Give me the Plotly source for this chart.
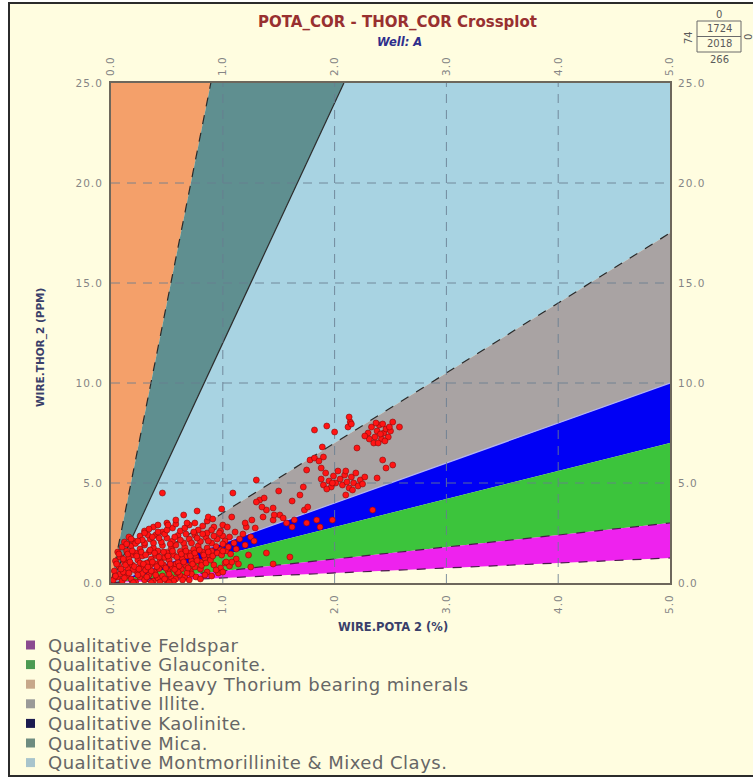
import plotly.graph_objects as go

# ---------------- data ----------------
# Mineral zones on the Th/K crossplot, bounded by Th/K ratio lines through the origin
zone_names = [
    "Qualitative Feldspar",
    "Qualitative Glauconite.",
    "Qualitative Heavy Thorium bearing minerals",
    "Qualitative Illite.",
    "Qualitative Kaolinite.",
    "Qualitative Mica.",
    "Qualitative Montmorillinite & Mixed Clays.",
]
zone_ratio_lo = [0.25, 0.6, 28.0, 2.0, 1.4, 12.0, 3.5]
zone_ratio_hi = [0.6, 1.4, None, 3.5, 2.0, 28.0, 12.0]
zone_fill = ["#EE22EE", "#3CC43C", "#F4A06A", "#A9A3A3", "#0000F5", "#5F8F90", "#A8D3E2"]
zone_swatch = ["#8B4A8F", "#4C9A52", "#C7A88A", "#9A9A98", "#1B1B4F", "#6E8C80", "#A8C4CC"]

# Ratio lines drawn on zone edges
edge_ratio = [28.0, 12.0, 3.5, 2.0, 0.6, 0.25]
edge_color = ["#2a2a2a", "#2a2a2a", "#2a2a2a", "#b4b4f2", "#4a1a4a", "#4a1a4a"]
edge_dash = ["dash", "solid", "dash", "solid", "dash", "dash"]

# Axis ticks
k_ticks = [0, 1, 2, 3, 4, 5]
k_labels = ["0.0", "1.0", "2.0", "3.0", "4.0", "5.0"]
th_ticks = [0, 5, 10, 15, 20, 25]
th_labels = ["0.0", "5.0", "10.0", "15.0", "20.0", "25.0"]

# Log samples: potassium (%) and thorium (ppm)
pota_pct = [
    0.02, 0.06, 0.10, 0.14, 0.18, 0.22, 0.26, 0.30, 0.34, 0.38, 0.42, 0.46, 0.50, 0.54, 0.58, 0.62, 0.08, 0.28, 0.44, 0.66,
    0.03, 0.07, 0.11, 0.15, 0.19, 0.23, 0.27, 0.31, 0.35, 0.39, 0.43, 0.47, 0.51, 0.55, 0.59, 0.63, 0.67, 0.71, 0.75, 0.20, 0.40, 0.58,
    0.04, 0.08, 0.12, 0.16, 0.20, 0.24, 0.28, 0.32, 0.36, 0.40, 0.44, 0.48, 0.52, 0.56, 0.60, 0.64, 0.68, 0.72, 0.76, 0.80, 0.84, 0.88, 0.26, 0.50,
    0.06, 0.10, 0.14, 0.18, 0.22, 0.26, 0.30, 0.34, 0.38, 0.42, 0.46, 0.50, 0.54, 0.58, 0.62, 0.66, 0.70, 0.74, 0.78, 0.82, 0.86, 0.90, 0.94, 0.98,
    0.12, 0.16, 0.20, 0.26, 0.30, 0.35, 0.40, 0.45, 0.50, 0.55, 0.60, 0.65, 0.70, 0.75, 0.80, 0.85, 0.90, 0.95, 1.00,
    0.30, 0.38, 0.46, 0.55, 0.62, 0.70, 0.78, 0.86, 0.92, 0.98, 0.75, 0.50,
    0.72, 0.80, 0.86, 0.92, 0.98, 1.02, 0.90, 1.06, 1.12, 0.96,
    0.04, 0.12, 0.16, 0.24, 0.32, 0.36, 0.40, 0.48, 0.52, 0.56, 0.60, 0.64, 0.68, 0.20, 0.36, 0.52,
    0.05, 0.09, 0.13, 0.17, 0.21, 0.25, 0.29, 0.33, 0.37, 0.41, 0.45, 0.49, 0.53, 0.57, 0.61, 0.65, 0.69, 0.73, 0.77, 0.81, 0.85, 0.89,
    0.07, 0.11, 0.15, 0.19, 0.23, 0.27, 0.31, 0.35, 0.39, 0.43, 0.47, 0.51, 0.55, 0.59, 0.63, 0.67, 0.71, 0.75, 0.79, 0.83, 0.87, 0.91, 0.95, 0.99, 1.03, 1.07,
    0.14, 0.18, 0.22, 0.28, 0.33, 0.38, 0.43, 0.48, 0.53, 0.57, 0.62, 0.67, 0.72, 0.77, 0.82, 0.87, 0.92, 0.97, 1.02, 1.06, 1.00,
    0.34, 0.42, 0.50, 0.58, 0.66, 0.74, 0.82, 0.90, 1.00, 0.86,
    0.76, 0.84, 0.94, 1.00, 1.08, 1.14, 0.70, 0.80, 1.25, 1.45, 1.60,
    0.46, 0.77, 0.65, 0.58, 0.68, 0.51, 0.30, 0.24, 0.37, 0.42, 0.99, 0.87, 0.91,
    1.09, 1.30, 1.82, 1.93, 2.12, 2.14, 2.13, 2.15, 1.78, 1.82, 1.86, 1.90, 1.75, 1.88, 2.00,
    2.30, 2.33, 2.36, 2.38, 2.40, 2.42, 2.44, 2.46, 2.35, 2.31, 2.39, 2.43, 2.48, 2.50, 2.27, 2.37, 2.45, 2.41,
    2.49, 2.58, 2.52, 2.20, 2.43, 2.52, 2.46, 2.38,
    1.88, 1.90, 1.92, 1.95, 1.97, 1.99, 2.01, 2.03, 2.05, 2.07, 2.09, 2.11, 2.13, 2.15, 2.17, 2.19, 2.21, 2.23, 2.25, 2.10, 1.93, 2.27,
    2.16, 2.10, 1.69, 1.72, 1.98,
    1.33, 1.39, 1.36, 1.45, 1.26, 1.21, 1.29, 1.51, 1.57, 1.64, 1.75, 1.84, 1.37, 1.30, 1.35, 1.08,
    1.20, 1.46, 1.54, 1.73, 1.76, 1.62, 1.04, 1.11, 1.50, 1.62, 1.45,
    1.98, 2.34, 1.87, 1.23, 1.39, 1.03, 1.05, 1.10, 1.15, 1.20, 1.25, 1.00,
    1.12, 1.28, 1.18, 1.89,
]
thor_ppm = [
    0.15, 0.30, 0.10, 0.35, 0.20, 0.05, 0.30, 0.15, 0.40, 0.10, 0.25, 0.35, 0.12, 0.28, 0.20, 0.38, 0.45, 0.48, 0.05, 0.30,
    0.60, 0.85, 0.55, 0.75, 0.90, 0.60, 0.80, 0.65, 0.88, 0.55, 0.72, 0.90, 0.60, 0.78, 0.52, 0.70, 0.88, 0.60, 0.80, 0.68, 0.95, 0.95,
    1.10, 1.30, 1.05, 1.25, 1.40, 1.15, 1.35, 1.00, 1.20, 1.38, 1.08, 1.28, 1.15, 1.40, 1.02, 1.22, 1.35, 1.10, 1.30, 1.05, 1.25, 1.40, 1.00, 1.45,
    1.55, 1.80, 1.60, 1.85, 1.50, 1.70, 1.90, 1.55, 1.75, 1.60, 1.88, 1.52, 1.72, 1.90, 1.58, 1.78, 1.50, 1.68, 1.85, 1.55, 1.75, 1.60, 1.82, 1.65,
    2.05, 2.30, 2.10, 2.35, 2.00, 2.20, 2.40, 2.05, 2.25, 2.10, 2.38, 2.00, 2.20, 2.40, 2.08, 2.28, 2.00, 2.20, 2.35,
    2.60, 2.80, 2.55, 2.75, 2.60, 2.90, 2.65, 2.50, 2.80, 2.60, 3.00, 3.00,
    0.45, 0.70, 0.55, 0.90, 0.75, 1.00, 0.35, 0.85, 1.20, 0.50,
    0.35, 0.25, 0.50, 0.40, 0.30, 0.60, 0.40, 0.20, 0.45, 0.10, 0.55, 0.15, 0.50, 0.02, 0.02, 0.02,
    0.95, 0.70, 0.90, 1.05, 0.82, 0.70, 0.95, 0.80, 1.05, 0.82, 1.00, 0.75, 0.95, 0.68, 0.85, 1.05, 0.75, 0.95, 1.12, 0.88, 1.00, 1.15,
    1.45, 1.20, 1.45, 1.60, 1.35, 1.55, 1.40, 1.65, 1.50, 1.30, 1.55, 1.35, 1.60, 1.30, 1.45, 1.60, 1.35, 1.50, 1.65, 1.40, 1.55, 1.35, 1.50, 1.40, 1.60, 1.45,
    1.95, 2.20, 1.98, 2.15, 2.40, 2.00, 2.25, 2.45, 1.95, 2.30, 2.15, 2.45, 2.00, 2.25, 2.45, 2.10, 2.35, 2.50, 2.10, 2.30, 1.95,
    2.70, 2.90, 2.65, 2.95, 2.75, 2.55, 2.85, 2.65, 2.90, 3.10,
    0.30, 0.40, 0.65, 0.55, 1.05, 0.95, 0.15, 0.20, 0.80, 0.95, 1.30,
    4.50, 3.60, 3.40, 3.15, 3.00, 2.90, 2.50, 2.10, 2.30, 2.55, 3.70, 3.30, 3.20,
    4.50, 5.15, 7.65, 7.85, 7.80, 8.05, 8.30, 7.95, 6.15, 6.25, 6.10, 6.30, 5.65, 5.75, 7.55,
    7.50, 7.80, 7.30, 7.60, 7.90, 7.20, 7.50, 7.70, 7.00, 7.20, 7.00, 7.95, 7.30, 7.60, 7.35, 8.00, 7.10, 7.45,
    7.80, 7.80, 8.05, 6.75, 6.15, 5.90, 5.75, 5.25,
    5.20, 4.90, 5.50, 5.10, 4.80, 5.35, 5.00, 5.60, 5.20, 4.90, 5.40, 5.05, 4.75, 5.30, 5.00, 5.50, 4.85, 5.15, 4.95, 5.60, 4.70, 5.30,
    4.65, 4.40, 4.40, 4.80, 5.00,
    4.15, 3.65, 3.30, 3.15, 3.15, 2.80, 2.75, 3.40, 3.00, 3.15, 3.00, 3.15, 4.25, 4.05, 3.80, 3.30,
    3.00, 3.40, 3.25, 3.65, 3.80, 2.80, 2.80, 2.55, 4.60, 4.10, 3.75,
    3.15, 3.65, 2.80, 1.40, 1.50, 1.05, 1.80, 2.00, 2.20, 1.90, 2.30, 1.60,
    1.70, 2.10, 2.45, 6.80,
]
assert len(pota_pct) == len(thor_ppm)

K_MAX, TH_MAX = 5.0, 25.0

# ---------------- page geometry (pixels) ----------------
W, H = 753, 778
PL, PR, PT, PB = 111, 670, 83, 583


def px(x):
    return (x - PL) / (PR - PL)


def py(y):
    return (PB - y) / (PB - PT)


def spaced(text, gap):
    return '<span style="letter-spacing:%spx">%s</span>' % (gap, text)


def ratio_hit(m):
    """Point where the line Th = m*K leaves the plotting box."""
    if m is None:
        return (0.0, TH_MAX)
    if m * K_MAX <= TH_MAX:
        return (K_MAX, m * K_MAX)
    return (TH_MAX / m, TH_MAX)


def wedge(m_lo, m_hi):
    lo = ratio_hit(m_lo)
    hi = ratio_hit(m_hi)
    xs, ys = [0.0, lo[0]], [0.0, lo[1]]
    if lo[0] == K_MAX and hi[1] == TH_MAX and hi[0] < K_MAX:
        xs.append(K_MAX)
        ys.append(TH_MAX)
    xs += [hi[0], 0.0]
    ys += [hi[1], 0.0]
    return xs, ys


fig = go.Figure()

# zone fills
draw_order = [2, 5, 6, 3, 4, 1, 0]
for i in draw_order:
    xs, ys = wedge(zone_ratio_lo[i], zone_ratio_hi[i])
    fig.add_trace(go.Scatter(
        x=xs, y=ys, mode="lines", fill="toself", fillcolor=zone_fill[i],
        line=dict(width=0), name=zone_names[i], showlegend=False, hoverinfo="skip",
    ))

# ratio lines on zone edges
for m, c, d in zip(edge_ratio, edge_color, edge_dash):
    hx, hy = ratio_hit(m)
    fig.add_trace(go.Scatter(
        x=[0, hx], y=[0, hy], mode="lines",
        line=dict(color=c, width=1.2, dash=d), showlegend=False, hoverinfo="skip",
    ))

# dashed grid on top of the zones
gx, gy = [], []
for k in k_ticks[1:-1]:
    gx += [k, k, None]
    gy += [0, TH_MAX, None]
for t in th_ticks[1:-1]:
    gx += [0, K_MAX, None]
    gy += [t, t, None]
fig.add_trace(go.Scatter(
    x=gx, y=gy, mode="lines", line=dict(color="rgba(105,125,145,0.85)", width=1, dash="9px,7px"),
    showlegend=False, hoverinfo="skip",
))

# samples
fig.add_trace(go.Scatter(
    x=pota_pct, y=thor_ppm, mode="markers", name="Samples",
    marker=dict(size=6, color="#FF1414", line=dict(color="#8A0A0A", width=0.6)),
    showlegend=False,
))

# hidden trace that carries the mirrored top / right axes
fig.add_trace(go.Scatter(x=[None], y=[None], xaxis="x2", yaxis="y2", showlegend=False, hoverinfo="skip"))

tick_font = dict(family="DejaVu Sans", size=10.5, color="#858585")
k_text = [spaced(s, 1) for s in k_labels]
th_text = [spaced(s, 1) for s in th_labels]
frame = "#6d675c"

fig.update_layout(
    width=W, height=H, autosize=False,
    margin=dict(l=PL, r=W - PR, t=PT, b=H - PB, pad=0),
    paper_bgcolor="#FFFFFF", plot_bgcolor="#FFFFFF",
    showlegend=False,
    xaxis=dict(range=[0, K_MAX], tickvals=k_ticks, ticktext=k_text, tickangle=-90,
               showgrid=False, zeroline=False, showline=True, linecolor=frame, linewidth=2,
               mirror=True, ticks="", tickfont=tick_font, ticklabelstandoff=5, fixedrange=True),
    xaxis2=dict(range=[0, K_MAX], overlaying="x", side="top", anchor="y", tickvals=k_ticks,
                ticktext=k_text, tickangle=-90, showgrid=False, zeroline=False, showline=False,
                ticks="", tickfont=tick_font, ticklabelstandoff=6),
    yaxis=dict(range=[0, TH_MAX], tickvals=th_ticks, ticktext=th_text, showgrid=False,
               zeroline=False, showline=True, linecolor=frame, linewidth=2, mirror=True,
               ticks="", tickfont=tick_font, ticklabelstandoff=4, fixedrange=True),
    yaxis2=dict(range=[0, TH_MAX], overlaying="y", side="right", anchor="x", tickvals=th_ticks,
                ticktext=th_text, showgrid=False, zeroline=False, showline=False,
                ticks="", tickfont=tick_font, ticklabelstandoff=7),
)

shapes = [
    # cream page with dark frame
    dict(type="rect", xref="paper", yref="paper", x0=px(9), x1=px(W + 10), y0=py(776), y1=py(3),
         fillcolor="#FFFDE0", line=dict(color="#2b2b2b", width=2), layer="below"),
    # run summary box
    dict(type="rect", xref="paper", yref="paper", x0=px(697), x1=px(741), y0=py(52), y1=py(21),
         line=dict(color="#6a6a6a", width=1), fillcolor="rgba(0,0,0,0)"),
    dict(type="line", xref="paper", yref="paper", x0=px(697), x1=px(741), y0=py(36.5), y1=py(36.5),
         line=dict(color="#6a6a6a", width=1)),
]

annotations = [
    dict(text="<b>POTA_COR - THOR_COR Crossplot</b>", x=px(397), y=py(22), xref="paper", yref="paper",
         showarrow=False, xanchor="center", yanchor="middle",
         font=dict(family="DejaVu Sans", size=15, color="#983030")),
    dict(text="<b><i>Well: A</i></b>", x=px(400), y=py(42), xref="paper", yref="paper",
         showarrow=False, xanchor="center", yanchor="middle",
         font=dict(family="DejaVu Sans", size=11.5, color="#2E2E8C")),
    dict(text="<b>WIRE.POTA 2 (%)</b>", x=px(393), y=py(627), xref="paper", yref="paper",
         showarrow=False, xanchor="center", yanchor="middle",
         font=dict(family="DejaVu Sans", size=11.5, color="#3A3F6A")),
    dict(text="<b>WIRE.THOR_2 (PPM)</b>", x=px(40), y=py(348), xref="paper", yref="paper",
         showarrow=False, xanchor="center", yanchor="middle", textangle=-90,
         font=dict(family="DejaVu Sans", size=10.5, color="#3A3F6A")),
]

box_font = dict(family="DejaVu Sans", size=10, color="#5a5a5a")
for txt, x, y, ang in [("0", 719, 14, 0), ("1724", 719, 29, 0), ("2018", 719, 44, 0),
                       ("266", 719, 60, 0), ("74", 689, 37, -90), ("0", 749, 37, -90)]:
    annotations.append(dict(text=txt, x=px(x), y=py(y), xref="paper", yref="paper", showarrow=False,
                            xanchor="center", yanchor="middle", textangle=ang, font=box_font))

# zone key below the plot
row0, row_step = 645, 19.6
for i, name in enumerate(zone_names):
    yc = row0 + i * row_step
    shapes.append(dict(type="rect", xref="paper", yref="paper", x0=px(26), x1=px(35),
                       y0=py(yc + 4.5), y1=py(yc - 4.5), fillcolor=zone_swatch[i],
                       line=dict(width=0)))
    annotations.append(dict(text=spaced(name, 0.5),
                            x=px(46), y=py(yc), xref="paper", yref="paper",
                            showarrow=False, xanchor="left", yanchor="middle",
                            font=dict(family="DejaVu Sans", size=18, color="#666666")))

fig.update_layout(shapes=shapes, annotations=annotations)
fig.write_html("out.html")
